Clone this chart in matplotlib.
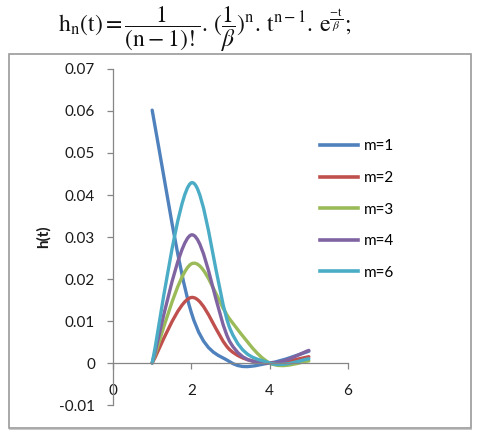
import matplotlib
matplotlib.use("Agg")
import matplotlib.pyplot as plt
from matplotlib.path import Path
from matplotlib.patches import PathPatch, Rectangle
from matplotlib.lines import Line2D

# ---- data ----
t = [1, 2, 3, 4, 5]
m1 = [0.0602, 0.0120, 0.0002, 0.0, 0.0028]
m2 = [0.0, 0.0156, 0.0030, 0.0, 0.0015]
m3 = [0.0, 0.0236, 0.0102, 0.0, 0.0005]
m4 = [0.0, 0.0305, 0.0048, 0.0, 0.0030]
m6 = [0.0, 0.0429, 0.0079, 0.0, 0.0010]
labels = ["m=1", "m=2", "m=3", "m=4", "m=6"]
series = [m1, m2, m3, m4, m6]
colors = ["#4F81BD", "#C0504D", "#9BBB59", "#8064A2", "#4BACC6"]
xticks = [0, 2, 4, 6]
yticks = [-0.01, 0, 0.01, 0.02, 0.03, 0.04, 0.05, 0.06, 0.07]
ytick_labels = ["-0.01", "0", "0.01", "0.02", "0.03", "0.04", "0.05", "0.06", "0.07"]
xlabel_texts = ["0", "2", "4", "6"]


def smooth_path(xs, ys):
    """Excel-like smoothed line: cubic Bezier segments through data points."""
    pts = list(zip(xs, ys))
    n = len(pts)
    verts = [pts[0]]
    codes = [Path.MOVETO]
    for i in range(n - 1):
        p0 = pts[i - 1] if i > 0 else pts[i]
        p1 = pts[i]
        p2 = pts[i + 1]
        p3 = pts[i + 2] if i + 2 < n else pts[i + 1]
        c1 = (p1[0] + (p2[0] - p0[0]) / 6.0, p1[1] + (p2[1] - p0[1]) / 6.0)
        c2 = (p2[0] - (p3[0] - p1[0]) / 6.0, p2[1] - (p3[1] - p1[1]) / 6.0)
        verts += [c1, c2, p2]
        codes += [Path.CURVE4, Path.CURVE4, Path.CURVE4]
    return Path(verts, codes)


plt.rcParams["font.family"] = ["Lato", "DejaVu Sans"]
plt.rcParams["mathtext.fontset"] = "stix"

W, H = 482, 436
fig = plt.figure(figsize=(W / 100, H / 100), dpi=100)

# formula
fig.text(205 / W, 1 - 32 / H,
         r"$\mathrm{h_n(t)} = \dfrac{1}{(\mathrm{n}-1)!}.\,(\dfrac{1}{\beta})^{\mathrm{n}}.\,\mathrm{t}^{\mathrm{n}-1}.\,\mathrm{e}^{\frac{-\mathrm{t}}{\beta}};$",
         ha="center", va="baseline", fontsize=17, color="#111111")

# chart frame
fig.patches.append(Rectangle((9 / W, 1 - 428 / H), 462 / W, 374 / H,
                             transform=fig.transFigure, fill=False,
                             edgecolor="#9a9a9a", linewidth=1.2))
fig.patches.append(Rectangle((9 / W, 1 - 429.5 / H), 463 / W, 0.6 / H,
                             transform=fig.transFigure, fill=True,
                             facecolor="#c8c8c8", edgecolor="none"))

ax = fig.add_axes([113 / W, 1 - 405 / H, 235 / W, 336 / H])
ax.set_xlim(0, 6)
ax.set_ylim(-0.01, 0.07)

for ys, c in zip(series, colors):
    ax.add_patch(PathPatch(smooth_path(t, ys), fill=False, edgecolor=c,
                           linewidth=2.4, capstyle="round", joinstyle="round"))

ax.spines["top"].set_visible(False)
ax.spines["right"].set_visible(False)
ax.spines["bottom"].set_position(("data", 0))
for s in ("left", "bottom"):
    ax.spines[s].set_color("#868686")
    ax.spines[s].set_linewidth(0.9)

ax.set_xticks(xticks)
ax.set_xticklabels(xlabel_texts)
ax.set_yticks(yticks)
ax.set_yticklabels(ytick_labels)
ax.tick_params(axis="both", direction="out", length=4, width=0.9,
               color="#868686", labelsize=11, labelcolor="#1a1a1a")
ax.tick_params(axis="y", pad=9)
ax.tick_params(axis="x", pad=11)
ax.patch.set_visible(False)

fig.text(43 / W, 1 - 237 / H, "h(t)", rotation=90, ha="center", va="center",
         fontsize=11, fontweight="bold", color="#1a1a1a")

handles = [Line2D([], [], color=c, linewidth=2.6) for c in colors]
fig.legend(handles, labels, loc="center left",
           bbox_to_anchor=(320 / W, 1 - 209.5 / H), frameon=False,
           fontsize=11, handlelength=2.5, handletextpad=0.35,
           labelspacing=1.15, borderpad=0, borderaxespad=0)

fig.savefig("out.png", dpi=100)
